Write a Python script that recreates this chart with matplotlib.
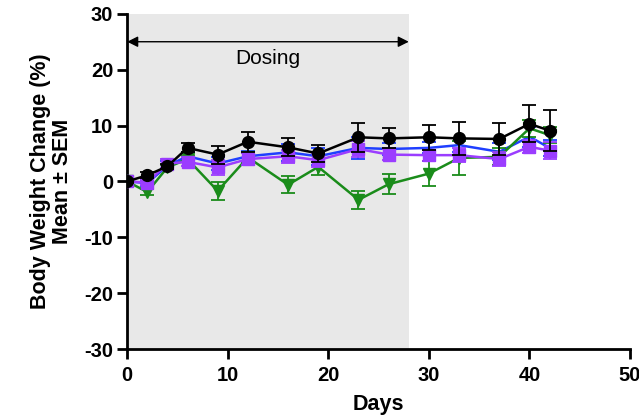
import matplotlib.pyplot as plt
import numpy as np

plt.rcParams["font.family"] = ["Liberation Sans", "DejaVu Sans"]
plt.rcParams["font.weight"] = "bold"
plt.rcParams["axes.unicode_minus"] = False

days = [0, 2, 4, 6, 9, 12, 16, 19, 23, 26, 30, 33, 37, 40, 42]

blue_mean = [0.0, -0.3, 2.8, 4.5, 3.2, 4.5, 5.2, 4.5, 6.0, 5.8, 6.0, 6.5, 5.3, 8.0, 6.0]
blue_sem = [0.3, 0.6, 0.8, 0.8, 1.2, 1.0, 1.5, 1.5, 2.0, 1.0, 1.0, 1.2, 1.5, 1.8, 1.5]

green_mean = [0.0, -1.9, 2.5, 4.0, -1.7, 4.3, -0.6, 2.6, -3.3, -0.5, 1.4, 4.2, 4.4, 9.5, 8.3]
green_sem = [0.2, 0.5, 0.5, 0.6, 1.6, 0.8, 1.5, 1.5, 1.6, 1.8, 2.2, 3.0, 1.5, 1.5, 1.5]

purple_mean = [0.0, -0.2, 3.2, 3.5, 2.5, 4.0, 4.5, 3.8, 5.8, 4.8, 4.7, 4.7, 4.0, 6.2, 5.5]
purple_sem = [0.4, 0.5, 0.8, 0.8, 1.3, 1.0, 1.2, 1.2, 1.5, 1.0, 1.0, 1.2, 1.2, 1.2, 1.5]

black_mean = [0.0, 1.1, 2.7, 6.0, 4.8, 7.1, 6.1, 5.0, 7.9, 7.7, 7.9, 7.7, 7.6, 10.3, 9.1]
black_sem = [0.3, 0.5, 0.5, 0.8, 1.6, 1.8, 1.6, 1.5, 2.6, 1.8, 2.2, 3.0, 2.8, 3.3, 3.6]

dosing_start, dosing_end = 0, 28

fig = plt.figure(figsize=(6.39, 4.18), dpi=100)
ax = fig.add_axes([0.199, 0.165, 0.787, 0.802])

ax.axvspan(dosing_start, dosing_end, color="#e8e8e8", zorder=0, lw=0)
ax.annotate("", xy=(dosing_start, 25), xytext=(dosing_end, 25),
            arrowprops=dict(arrowstyle="<|-|>", color="black", lw=1.0,
                            mutation_scale=16, shrinkA=0, shrinkB=0))
ax.text((dosing_start + dosing_end) / 2, 22, "Dosing", ha="center", va="center",
        fontsize=15, fontweight="normal")

series = [
    (blue_mean, blue_sem, "#1f3fff", None),
    (green_mean, green_sem, "#1a8c1a", "v"),
    (purple_mean, purple_sem, "#9b3dff", "s"),
    (black_mean, black_sem, "black", "o"),
]
for i, (m, s, c, mk) in enumerate(series):
    ax.errorbar(days, m, yerr=s, color=c, marker=mk, markersize=8.5,
                lw=1.8, elinewidth=1.3, capsize=5, capthick=1.3, zorder=3 + i)

ax.set_xlim(0, 50)
ax.set_ylim(-30, 30)
ax.set_xticks([0, 10, 20, 30, 40, 50])
ax.set_yticks([-30, -20, -10, 0, 10, 20, 30])
ax.spines["top"].set_visible(False)
ax.spines["right"].set_visible(False)
for sp in ["left", "bottom"]:
    ax.spines[sp].set_linewidth(2)
ax.tick_params(width=2, length=7, labelsize=14.5)
ax.tick_params(axis="x", pad=5)
ax.tick_params(axis="y", pad=3)
for lbl in ax.get_xticklabels() + ax.get_yticklabels():
    lbl.set_fontweight("bold")
ax.set_xlabel("Days", fontsize=15.5, fontweight="bold", labelpad=7)
ax.set_ylabel("Body Weight Change (%)\nMean ± SEM", fontsize=15.5, fontweight="bold",
              labelpad=8, linespacing=1.05)

fig.savefig("out.png", dpi=100)
